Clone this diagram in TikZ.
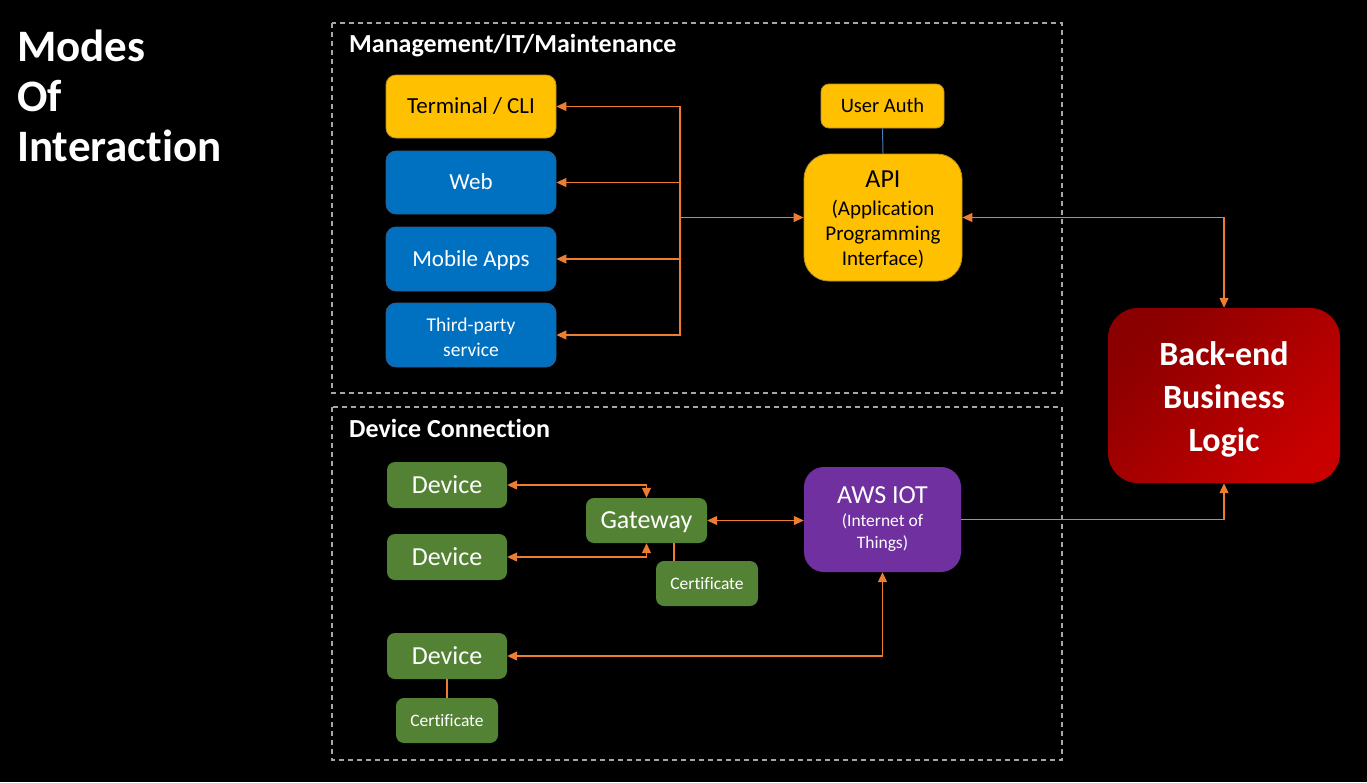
\documentclass[tikz,border=0pt]{standalone}
\usepackage{fontspec}
\setmainfont{Carlito}[Ligatures=NoCommon]
\usetikzlibrary{arrows.meta}
\definecolor{ylw}{HTML}{FFC000}
\definecolor{ylwB}{HTML}{B8902A}
\definecolor{blu}{HTML}{0070C0}
\definecolor{bluB}{HTML}{2E5C8F}
\definecolor{grn}{HTML}{548235}
\definecolor{prp}{HTML}{7030A0}
\definecolor{org}{HTML}{ED7D31}
\definecolor{frm}{HTML}{A6A6A6}
\definecolor{beDark}{HTML}{8A0000}
\definecolor{beLight}{HTML}{C80000}
\definecolor{authln}{HTML}{4A78B8}
\begin{document}
\begin{tikzpicture}[x=1pt,y=-1pt,
  box/.style={rectangle, rounded corners=10pt, inner sep=0pt, align=center},
  ybox/.style={box, fill=ylw, draw=ylwB, line width=0.8pt, text=black},
  bbox/.style={box, fill=blu, draw=bluB, line width=0.8pt, text=white},
  gbox/.style={box, fill=grn, text=white, rounded corners=8pt},
  frame/.style={draw=frm, line width=1.4pt, dash pattern=on 5pt off 4pt},
  conn/.style={draw=org, line width=1.2pt},
  hdr/.style={anchor=base west, inner sep=0pt, text=white, font=\bfseries\fontsize{26}{30}\selectfont},
  fsA/.style={font=\fontsize{23}{27}\selectfont, text height=14.8pt, text depth=0pt},
  fsB/.style={font=\fontsize{26}{30}\selectfont, text height=16.7pt, text depth=0pt},
  fsC/.style={font=\fontsize{20.5}{24}\selectfont, text height=13.2pt, text depth=0pt},
  fsD/.style={font=\fontsize{17.5}{21}\selectfont, text height=11.3pt, text depth=0pt},
  inner/.style={inner sep=0pt, align=center},
  >={Triangle[length=10pt,width=9pt]}]
\fill[black] (0,0) rectangle (1367,782);
\useasboundingbox (0,0) rectangle (1367,782);

% title
\node[anchor=base west, align=left, inner sep=0pt, text=white,
  font=\bfseries\fontsize{45}{50}\selectfont] (title) at (17,161) {Modes\\Of\\Interaction};

% frames
\draw[frame] (332,23) rectangle (1062,393);
\draw[frame] (332,407) rectangle (1062,760);
\node[hdr] (mgmtlbl) at (349,52) {Management/IT/Maintenance};
\node[hdr] (devlbl) at (349,437) {Device Connection};

% management nodes
\node[ybox, minimum width=170pt, minimum height=63pt, fsA] (term) at (471,106.5) {Terminal / CLI};
\node[bbox, minimum width=170pt, minimum height=63pt, fsA] (web) at (471,182.5) {Web};
\node[bbox, minimum width=170pt, minimum height=64pt, fsA] (mob) at (471,259) {Mobile Apps};
\node[bbox, minimum width=170pt, minimum height=64pt,
  label={[inner, text=white, yshift=-2pt, font=\fontsize{19.5}{25}\selectfont]center:Third-party\\service}] (third) at (471,335) {};
\node[ybox, rounded corners=8pt, minimum width=123pt, minimum height=44pt, fsC] (uauth) at (882.5,106) {User Auth};
\node[ybox, rounded corners=25pt, minimum width=158pt, minimum height=127pt,
  label={[inner, text=black, yshift=-2.5pt, font=\fontsize{21}{25}\selectfont]center:{\fontsize{26}{30}\selectfont API}\\[3pt](Application\\Programming\\Interface)}] (api) at (883,217.5) {};

% back-end
\node[box, rounded corners=30pt, minimum width=232pt, minimum height=175pt, top color=beDark, bottom color=beLight, shading angle=45,
  label={[inner, text=white, yshift=-4pt, font=\bfseries\fontsize{34}{43}\selectfont]center:Back-end\\Business\\Logic}] (be) at (1224,395.5) {};

% device nodes
\node[gbox, minimum width=120pt, minimum height=46pt, fsB] (dev1) at (447,485) {Device};
\node[gbox, minimum width=120pt, minimum height=46pt, fsB] (dev2) at (447,557) {Device};
\node[gbox, minimum width=120pt, minimum height=46pt, fsB] (dev3) at (447,656) {Device};
\node[gbox, minimum width=121pt, minimum height=45pt, fsB] (gw) at (646.5,520.5) {Gateway};
\node[gbox, minimum width=102pt, minimum height=45pt, fsD] (gcert) at (707,583.5) {Certificate};
\node[gbox, minimum width=102pt, minimum height=45pt, fsD] (dcert) at (447,720.5) {Certificate};
\node[box, fill=prp, rounded corners=20pt, minimum width=157pt, minimum height=105pt,
  label={[inner, text=white, yshift=0pt, font=\fontsize{17.5}{22}\selectfont]center:{\fontsize{26}{30}\selectfont AWS IOT}\\[1pt](Internet of\\Things)}] (aws) at (882.5,519.5) {};

% connectors
\coordinate (j) at (680,217.5);
\coordinate (gc) at (674,0);
\draw[conn,<-] (term.east) -| (j);
\draw[conn,<-] (web.east) -| (j);
\draw[conn,<-] (mob.east) -| (j);
\draw[conn,<-] (third.east) -| (j);
\draw[conn,->] (j) -- (api.west);
\draw[draw=authln, line width=1pt] (uauth.south) -- (api.north);
\draw[conn,<->] (api.east) -| (be.north);
\draw[conn,<->] (dev1.east) -| (gw.north);
\draw[conn,<->] (dev2.east) -| (gw.south);
\draw[conn,<->] (gw.east) -- (gw.east -| aws.west);
\draw[conn,->] (aws.east) -| (be.south);
\draw[conn,<->] (dev3.east) -| (aws.south);
\draw[conn] (gw.south -| gc) -- (gcert.north -| gc);
\draw[conn] (dev3.south) -- (dcert.north);
\end{tikzpicture}
\end{document}
